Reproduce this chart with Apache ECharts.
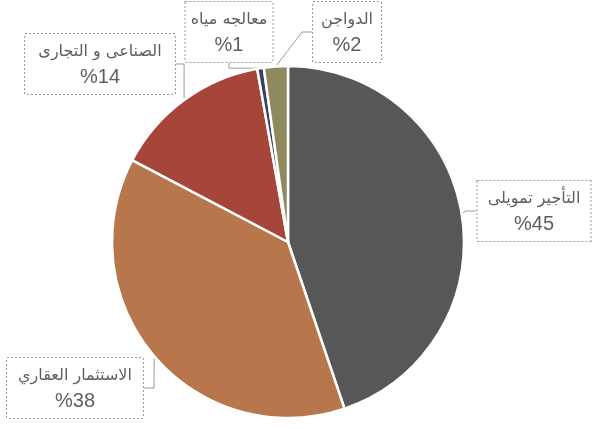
<!DOCTYPE html>
<html>
<head>
<meta charset="utf-8">
<script src="https://cdn.jsdelivr.net/npm/echarts@6/dist/echarts.min.js"></script>
<style>
  html, body { margin: 0; padding: 0; background: #fff; }
  #main { width: 594px; height: 429px; }
</style>
</head>
<body>
<div id="main"></div>
<script>
// slice names (clockwise from 12 o'clock)
const names = ['التأجير تمويلى', 'الاستثمار العقاري', 'الصناعى و التجارى', 'معالجه مياه', 'الدواجن']
// slice values
const values = [44.8, 37.9, 14.5, 0.6, 2.2]
// percentage text printed on the labels
const pctLabels = ['%45', '%38', '%14', '%1', '%2']
const colors = ['#575757', '#b8764c', '#a6463b', '#3b4063', '#8e8a5e']

// where each label box sits (centre)
const labelPos = [[534, 211], [75, 388], [100, 64], [229, 32], [347, 32]]
// box widths
const labelW = [93, 116, 130, 67, 48]

let chart = echarts.init(document.getElementById('main'))
let pieData = []
for (let i = 0; i < names.length; i++) {
  pieData.push({
    name: names[i],
    value: values[i],
    itemStyle: { color: colors[i] },
    label: { width: labelW[i] }
  })
}

let option = {
  animation: false,
  series: [
    {
      type: 'pie',
      center: [288, 242],
      radius: 176,
      startAngle: 90,
      clockwise: true,
      data: pieData,
      itemStyle: { borderColor: '#fff', borderWidth: 2.5 },
      label: {
        show: true,
        position: 'outside',
        overflow: 'none',
        formatter: (p) => '{a|' + p.name + '}\n{b|' + pctLabels[p.dataIndex] + '}',
        backgroundColor: '#fff',
        borderColor: '#9a9a9a',
        borderType: 'dotted',
        borderWidth: 1,
        padding: [6, 10, 4, 10],
        align: 'center',
        rich: {
          a: { fontFamily: 'DejaVu Sans', fontSize: 16, color: '#5e5e5e', lineHeight: 24, align: 'center' },
          b: { fontFamily: 'Liberation Sans', fontSize: 20, color: '#5e5e5e', lineHeight: 26, align: 'center' }
        }
      },
      labelLine: {
        show: true,
        length: 10,
        length2: 10,
        lineStyle: { color: '#999', width: 1 }
      },
      labelLayout: (params) => {
        const p = labelPos[params.dataIndex]
        return { x: p[0], y: p[1], align: 'center', verticalAlign: 'middle' }
      }
    }
  ]
}
chart.setOption(option)
</script>
</body>
</html>
